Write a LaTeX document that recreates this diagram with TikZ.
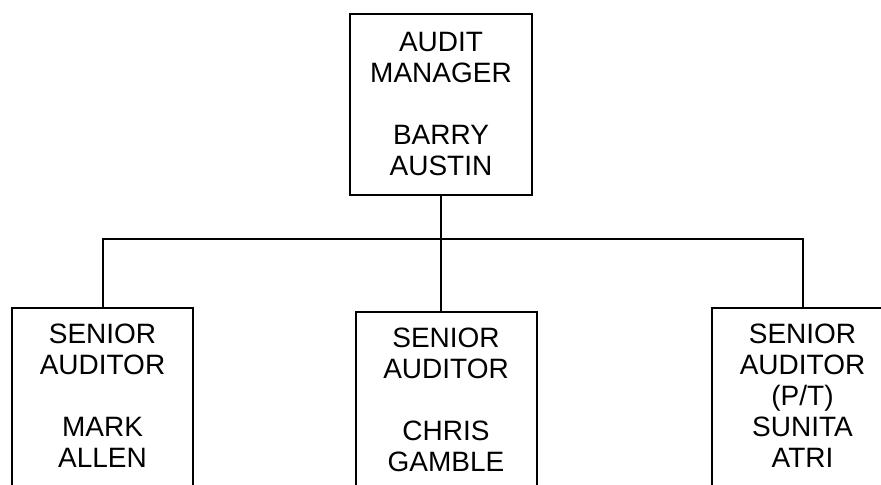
\documentclass[tikz,border=0pt]{standalone}
\usepackage{fontspec}
\setmainfont{Liberation Sans}
\usetikzlibrary{positioning}

\begin{document}
\begin{tikzpicture}[x=0.5pt,y=-0.5pt,line width=1pt,
  every node/.style={font=\fontsize{14}{15.5}\selectfont,align=center},
  headbox/.style={draw,anchor=north,minimum width=91pt,minimum height=90.5pt},
  postbox/.style={draw,anchor=north,minimum width=90.5pt,inner ysep=8pt,text depth=30pt}]
\useasboundingbox (0,0) rectangle (881,485);
\clip (0,0) rectangle (881,485);
\node[headbox] (barry) at (441,13) {AUDIT\\MANAGER\\[15.5pt]BARRY\\AUSTIN};
\node[postbox] (mark) at (102.5,307) {SENIOR\\AUDITOR\\[15.5pt]MARK\\ALLEN};
\node[postbox] (chris) at (446,311) {SENIOR\\AUDITOR\\[15.5pt]CHRIS\\GAMBLE};
\node[postbox] (sunita) at (802.5,307) {SENIOR\\AUDITOR\\(P/T)\\SUNITA\\ATRI};
\coordinate (bus) at (441,239);
\draw (barry.south) -- (bus);
\draw (mark.north) |- (bus) -| (sunita.north);
\draw (bus) -- (bus |- chris.north);
\end{tikzpicture}
\end{document}
